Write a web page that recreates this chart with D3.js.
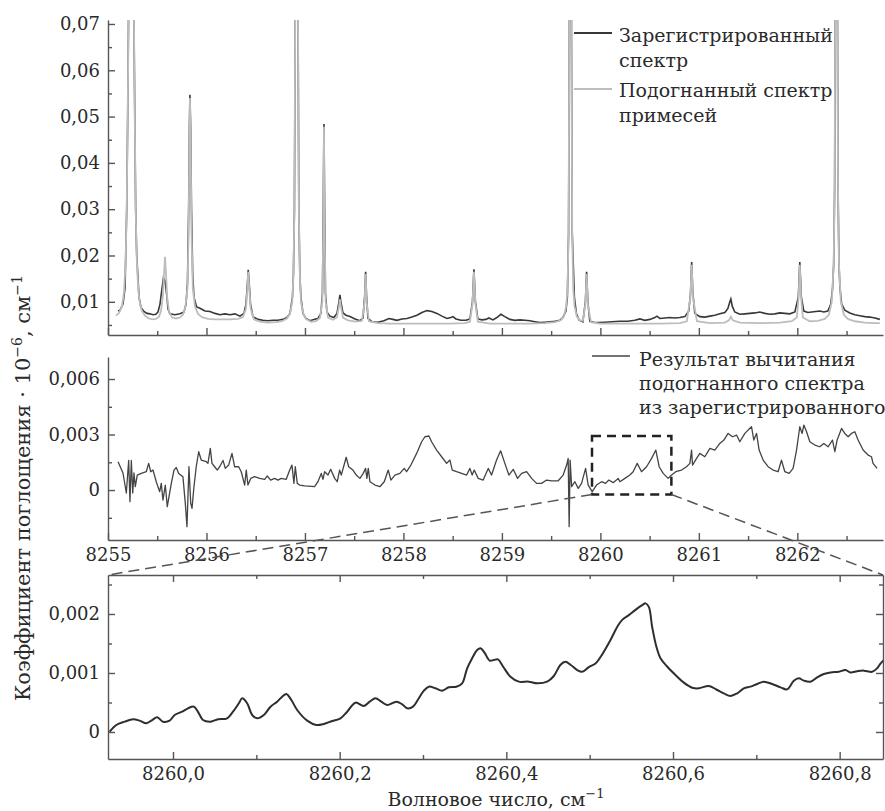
<!DOCTYPE html>
<html>
<head>
<meta charset="utf-8">
<script src="https://cdn.jsdelivr.net/npm/d3@7"></script>
<style>
body { margin: 0; background: #fff; }
svg { display: block; font-family: "DejaVu Serif", serif; }
.axis path, .axis line { stroke: #555; stroke-width: 1.4; }
.axis text { font-size: 18px; fill: #2a2a2a; font-family: "DejaVu Serif", serif; }
.legend text { font-size: 19px; fill: #2a2a2a; }
</style>
</head>
<body>
<div id="chart"></div>
<script>
// recorded spectrum (dark), wavenumber / absorption
const recorded = [[8255.102,0.0080],[8255.122,0.0082],[8255.152,0.0095],[8255.173,0.013],[8255.190,0.03],[8255.200,0.05],[8255.208,0.07],[8255.234,0.15],[8255.264,0.07],[8255.272,0.05],[8255.281,0.03],[8255.291,0.0205],[8255.302,0.016],[8255.315,0.011],[8255.335,0.0088],[8255.365,0.0079],[8255.396,0.0075],[8255.426,0.0074],[8255.457,0.0072],[8255.487,0.0073],[8255.508,0.0078],[8255.528,0.0095],[8255.543,0.012],[8255.563,0.0152],[8255.579,0.0145],[8255.599,0.011],[8255.609,0.0085],[8255.629,0.0074],[8255.680,0.0072],[8255.731,0.0074],[8255.772,0.0078],[8255.792,0.0095],[8255.807,0.014],[8255.819,0.03],[8255.827,0.048],[8255.832,0.0547],[8255.839,0.048],[8255.848,0.03],[8255.860,0.016],[8255.873,0.011],[8255.900,0.0089],[8255.934,0.0086],[8255.985,0.0080],[8256.036,0.0079],[8256.086,0.0075],[8256.137,0.0072],[8256.188,0.0074],[8256.239,0.0072],[8256.289,0.0074],[8256.340,0.0069],[8256.381,0.0075],[8256.401,0.0095],[8256.416,0.014],[8256.424,0.0169],[8256.434,0.014],[8256.447,0.0095],[8256.472,0.0068],[8256.523,0.0062],[8256.574,0.0060],[8256.624,0.0059],[8256.675,0.0060],[8256.726,0.0060],[8256.777,0.0062],[8256.817,0.0066],[8256.848,0.0075],[8256.873,0.011],[8256.883,0.016],[8256.893,0.03],[8256.901,0.07],[8256.916,0.15],[8256.930,0.07],[8256.938,0.03],[8256.948,0.016],[8256.959,0.011],[8256.980,0.0075],[8257.010,0.0064],[8257.051,0.0059],[8257.091,0.0062],[8257.132,0.0064],[8257.162,0.0075],[8257.178,0.012],[8257.186,0.03],[8257.193,0.0484],[8257.200,0.03],[8257.208,0.012],[8257.223,0.0078],[8257.254,0.0069],[8257.294,0.0066],[8257.325,0.0075],[8257.345,0.0100],[8257.355,0.0115],[8257.365,0.0100],[8257.386,0.0076],[8257.416,0.0071],[8257.457,0.0068],[8257.508,0.0063],[8257.558,0.0059],[8257.589,0.0065],[8257.606,0.011],[8257.616,0.0165],[8257.626,0.011],[8257.640,0.0064],[8257.680,0.0057],[8257.741,0.0056],[8257.802,0.0059],[8257.853,0.0064],[8257.893,0.0062],[8257.934,0.0060],[8257.985,0.0063],[8258.036,0.0064],[8258.086,0.0067],[8258.137,0.0071],[8258.188,0.0077],[8258.239,0.0081],[8258.289,0.0079],[8258.340,0.0075],[8258.391,0.0069],[8258.442,0.0064],[8258.482,0.0066],[8258.503,0.0068],[8258.533,0.0063],[8258.584,0.0060],[8258.635,0.0060],[8258.675,0.0063],[8258.701,0.010],[8258.716,0.0170],[8258.731,0.010],[8258.756,0.0063],[8258.797,0.0061],[8258.838,0.0062],[8258.868,0.0065],[8258.909,0.0061],[8258.949,0.0066],[8258.990,0.0073],[8259.030,0.0068],[8259.081,0.0062],[8259.132,0.0060],[8259.183,0.0061],[8259.234,0.0060],[8259.284,0.0059],[8259.335,0.0057],[8259.386,0.0055],[8259.437,0.0056],[8259.487,0.0057],[8259.538,0.0058],[8259.589,0.0060],[8259.619,0.0066],[8259.650,0.0080],[8259.665,0.011],[8259.677,0.025],[8259.685,0.07],[8259.695,0.15],[8259.706,0.07],[8259.714,0.025],[8259.736,0.011],[8259.756,0.0075],[8259.782,0.0061],[8259.822,0.0057],[8259.848,0.010],[8259.860,0.0165],[8259.873,0.010],[8259.893,0.0058],[8259.934,0.0056],[8259.975,0.0055],[8260.046,0.0056],[8260.117,0.0057],[8260.198,0.0058],[8260.279,0.0058],[8260.350,0.0060],[8260.401,0.0063],[8260.452,0.0060],[8260.503,0.0062],[8260.553,0.0066],[8260.574,0.0069],[8260.604,0.0064],[8260.655,0.0065],[8260.706,0.0066],[8260.756,0.0065],[8260.807,0.0066],[8260.858,0.0068],[8260.898,0.0080],[8260.916,0.0120],[8260.927,0.0186],[8260.939,0.0120],[8260.959,0.0075],[8261.010,0.0068],[8261.061,0.0067],[8261.112,0.0069],[8261.162,0.0071],[8261.213,0.0074],[8261.264,0.0077],[8261.294,0.0085],[8261.315,0.0100],[8261.325,0.0106],[8261.340,0.0090],[8261.365,0.0078],[8261.416,0.0073],[8261.467,0.0074],[8261.518,0.0075],[8261.569,0.0076],[8261.619,0.0078],[8261.670,0.0075],[8261.721,0.0073],[8261.772,0.0074],[8261.822,0.0076],[8261.873,0.0075],[8261.924,0.0074],[8261.975,0.0078],[8262.010,0.0110],[8262.025,0.0186],[8262.041,0.0110],[8262.066,0.0080],[8262.107,0.0077],[8262.147,0.0078],[8262.188,0.0079],[8262.228,0.0080],[8262.269,0.0078],[8262.310,0.0080],[8262.340,0.0095],[8262.358,0.013],[8262.369,0.018],[8262.379,0.035],[8262.384,0.07],[8262.396,0.15],[8262.408,0.07],[8262.413,0.035],[8262.423,0.018],[8262.433,0.013],[8262.450,0.0095],[8262.482,0.0082],[8262.533,0.0076],[8262.584,0.0072],[8262.635,0.0070],[8262.685,0.0068],[8262.736,0.0067],[8262.787,0.0065],[8262.838,0.0062]];

// fitted impurity spectrum (light)
const fitted = [[8255.081,0.0070],[8255.112,0.0076],[8255.142,0.0090],[8255.162,0.012],[8255.178,0.018],[8255.190,0.03],[8255.200,0.05],[8255.208,0.07],[8255.234,0.15],[8255.264,0.07],[8255.272,0.05],[8255.281,0.03],[8255.291,0.020],[8255.299,0.016],[8255.310,0.012],[8255.325,0.0095],[8255.345,0.0080],[8255.376,0.0070],[8255.406,0.0065],[8255.447,0.0062],[8255.487,0.0063],[8255.518,0.0068],[8255.538,0.0080],[8255.556,0.011],[8255.569,0.016],[8255.579,0.0197],[8255.589,0.016],[8255.601,0.011],[8255.619,0.0080],[8255.650,0.0066],[8255.690,0.0064],[8255.731,0.0066],[8255.761,0.0072],[8255.787,0.0090],[8255.807,0.013],[8255.819,0.025],[8255.827,0.045],[8255.832,0.0540],[8255.839,0.045],[8255.848,0.025],[8255.861,0.013],[8255.883,0.0090],[8255.914,0.0074],[8255.954,0.0067],[8256.015,0.0063],[8256.086,0.0062],[8256.157,0.0062],[8256.239,0.0062],[8256.320,0.0063],[8256.371,0.0067],[8256.401,0.0085],[8256.416,0.013],[8256.424,0.0165],[8256.434,0.013],[8256.449,0.0085],[8256.482,0.0062],[8256.543,0.0057],[8256.624,0.0055],[8256.706,0.0056],[8256.766,0.0058],[8256.817,0.0064],[8256.848,0.0074],[8256.871,0.010],[8256.883,0.016],[8256.893,0.03],[8256.901,0.07],[8256.916,0.15],[8256.930,0.07],[8256.938,0.03],[8256.948,0.016],[8256.960,0.010],[8256.984,0.0074],[8257.010,0.0063],[8257.061,0.0057],[8257.112,0.0058],[8257.152,0.0065],[8257.176,0.010],[8257.186,0.025],[8257.193,0.0478],[8257.200,0.025],[8257.210,0.010],[8257.234,0.0066],[8257.284,0.0061],[8257.325,0.0066],[8257.345,0.0090],[8257.355,0.0105],[8257.365,0.0090],[8257.386,0.0066],[8257.437,0.0060],[8257.518,0.0057],[8257.579,0.0059],[8257.606,0.010],[8257.616,0.0160],[8257.626,0.010],[8257.650,0.0058],[8257.741,0.0054],[8257.863,0.0053],[8258.015,0.0053],[8258.168,0.0053],[8258.320,0.0053],[8258.472,0.0053],[8258.624,0.0054],[8258.675,0.0057],[8258.701,0.0095],[8258.716,0.0165],[8258.731,0.0095],[8258.756,0.0057],[8258.878,0.0053],[8259.081,0.0053],[8259.284,0.0053],[8259.437,0.0054],[8259.538,0.0056],[8259.599,0.0060],[8259.629,0.0068],[8259.653,0.0090],[8259.667,0.013],[8259.677,0.025],[8259.685,0.07],[8259.695,0.15],[8259.706,0.07],[8259.714,0.025],[8259.724,0.013],[8259.738,0.0090],[8259.761,0.0068],[8259.792,0.0060],[8259.822,0.0059],[8259.848,0.0095],[8259.860,0.0160],[8259.873,0.0095],[8259.904,0.0056],[8259.995,0.0053],[8260.198,0.0053],[8260.401,0.0053],[8260.604,0.0053],[8260.807,0.0054],[8260.878,0.0058],[8260.914,0.0110],[8260.927,0.0180],[8260.940,0.0110],[8260.980,0.0058],[8261.112,0.0054],[8261.264,0.0055],[8261.305,0.0060],[8261.325,0.0068],[8261.345,0.0060],[8261.416,0.0055],[8261.619,0.0054],[8261.822,0.0055],[8261.944,0.0058],[8261.995,0.0066],[8262.013,0.011],[8262.025,0.0180],[8262.038,0.011],[8262.056,0.0066],[8262.127,0.0058],[8262.208,0.0059],[8262.279,0.0063],[8262.320,0.0072],[8262.350,0.0100],[8262.369,0.018],[8262.379,0.035],[8262.384,0.07],[8262.396,0.15],[8262.408,0.07],[8262.413,0.035],[8262.423,0.018],[8262.442,0.0100],[8262.472,0.0072],[8262.513,0.0063],[8262.584,0.0058],[8262.685,0.0055],[8262.787,0.0054],[8262.838,0.0054]];

// recorded minus fitted
const residual = [[8255.102,0.00153],[8255.152,0.00092],[8255.186,-0.00016],[8255.210,0.0016],[8255.223,-0.00063],[8255.237,0.0016],[8255.251,-0.00016],[8255.264,0.00092],[8255.277,0.00018],[8255.297,0.00081],[8255.338,0.0009],[8255.389,0.00099],[8255.413,0.00144],[8255.434,0.00099],[8255.457,0.00108],[8255.490,0.00045],[8255.525,-0.00009],[8255.541,0.00036],[8255.558,-0.00054],[8255.582,0.00027],[8255.602,-0.0009],[8255.643,0.00036],[8255.670,0.00108],[8255.693,0.00122],[8255.718,0.0009],[8255.761,0.00072],[8255.785,-0.00072],[8255.802,-0.00198],[8255.822,0.00126],[8255.840,-0.00072],[8255.853,-0.00099],[8255.873,0.00018],[8255.896,0.00126],[8255.921,0.00207],[8255.947,0.00162],[8255.998,0.00153],[8256.015,0.00144],[8256.039,0.00225],[8256.056,0.00144],[8256.083,0.00126],[8256.110,0.00108],[8256.134,0.00126],[8256.168,0.0016],[8256.191,0.00117],[8256.225,0.00135],[8256.259,0.00198],[8256.286,0.00126],[8256.327,0.00126],[8256.353,0.00099],[8256.388,0.00027],[8256.404,0.00108],[8256.421,0.00027],[8256.449,0.00063],[8256.489,0.00072],[8256.540,0.00063],[8256.591,0.00058],[8256.617,0.00076],[8256.652,0.00054],[8256.692,0.00063],[8256.726,0.00054],[8256.759,0.00063],[8256.810,0.00058],[8256.845,0.00108],[8256.868,0.00135],[8256.888,0.00036],[8256.902,0.00126],[8256.922,0.00036],[8256.946,0.00027],[8256.997,0.00022],[8257.098,0.00018],[8257.132,0.00045],[8257.166,0.0009],[8257.183,0.00058],[8257.200,0.00099],[8257.234,0.00081],[8257.261,0.00112],[8257.302,0.00063],[8257.328,0.00045],[8257.352,0.00108],[8257.369,0.00081],[8257.419,0.00177],[8257.444,0.00126],[8257.487,0.00108],[8257.521,0.00081],[8257.558,0.00063],[8257.592,0.0009],[8257.616,0.00117],[8257.629,0.00063],[8257.643,0.00117],[8257.660,0.00045],[8257.711,0.00027],[8257.761,0.00018],[8257.805,0.00045],[8257.846,0.00108],[8257.873,0.00054],[8257.914,0.00081],[8257.964,0.0009],[8258.008,0.00117],[8258.032,0.00099],[8258.076,0.00135],[8258.134,0.00198],[8258.185,0.00261],[8258.218,0.00288],[8258.259,0.00292],[8258.286,0.00261],[8258.337,0.00216],[8258.388,0.0018],[8258.439,0.00144],[8258.472,0.00162],[8258.496,0.00108],[8258.540,0.00099],[8258.591,0.0009],[8258.642,0.00081],[8258.675,0.00117],[8258.698,0.00081],[8258.719,0.00108],[8258.759,0.00063],[8258.810,0.00054],[8258.861,0.00117],[8258.895,0.00081],[8258.946,0.00162],[8258.987,0.00212],[8259.030,0.00144],[8259.071,0.00081],[8259.115,0.00112],[8259.159,0.00063],[8259.200,0.0009],[8259.251,0.00099],[8259.302,0.00063],[8259.352,0.00036],[8259.403,0.00036],[8259.454,0.00054],[8259.505,0.0005],[8259.572,0.0005],[8259.622,0.00081],[8259.657,0.00135],[8259.673,0.00171],[8259.683,-0.00198],[8259.693,0.00162],[8259.708,0.00018],[8259.741,0.00045],[8259.775,0.00009],[8259.809,0.00036],[8259.850,0.00117],[8259.876,0.00027],[8259.917,-0.00009],[8259.961,0.00027],[8260.012,0.00045],[8260.053,0.00036],[8260.086,0.00054],[8260.130,0.0004],[8260.181,0.00063],[8260.198,0.00045],[8260.249,0.00063],[8260.299,0.00081],[8260.333,0.00099],[8260.374,0.00144],[8260.418,0.00099],[8260.469,0.00126],[8260.520,0.00171],[8260.563,0.00216],[8260.597,0.00126],[8260.638,0.0009],[8260.688,0.00063],[8260.723,0.00081],[8260.766,0.00099],[8260.824,0.00108],[8260.875,0.00126],[8260.909,0.00144],[8260.926,0.00216],[8260.936,0.00135],[8260.977,0.00171],[8261.010,0.00198],[8261.061,0.0018],[8261.112,0.00225],[8261.162,0.00216],[8261.213,0.00252],[8261.254,0.0027],[8261.297,0.00306],[8261.342,0.00288],[8261.383,0.00297],[8261.416,0.00261],[8261.467,0.00306],[8261.500,0.00324],[8261.535,0.00342],[8261.558,0.0027],[8261.586,0.00306],[8261.612,0.00216],[8261.653,0.00162],[8261.703,0.00126],[8261.754,0.00108],[8261.805,0.00099],[8261.839,0.00162],[8261.873,0.00099],[8261.917,0.0009],[8261.957,0.00117],[8261.992,0.00216],[8262.025,0.00342],[8262.049,0.00306],[8262.066,0.00351],[8262.094,0.00315],[8262.127,0.00261],[8262.178,0.00243],[8262.228,0.00234],[8262.269,0.00252],[8262.313,0.00234],[8262.357,0.0027],[8262.381,0.00207],[8262.404,0.0027],[8262.449,0.00333],[8262.482,0.00306],[8262.516,0.00288],[8262.550,0.00306],[8262.584,0.00315],[8262.617,0.0027],[8262.668,0.00216],[8262.719,0.00189],[8262.753,0.0018],[8262.769,0.00144],[8262.810,0.00117]];

// residual, enlarged fragment
const residualZoom = [[8259.924,0.000005],[8259.932,0.000119],[8259.942,0.000175],[8259.952,0.000215],[8259.960,0.000192],[8259.968,0.000147],[8259.975,0.000203],[8259.981,0.000249],[8259.988,0.000175],[8259.996,0.000192],[8260.002,0.000288],[8260.011,0.000344],[8260.018,0.000401],[8260.025,0.000429],[8260.031,0.000316],[8260.036,0.000203],[8260.045,0.000175],[8260.054,0.000215],[8260.065,0.000232],[8260.072,0.000344],[8260.079,0.000486],[8260.083,0.000571],[8260.089,0.000486],[8260.095,0.000288],[8260.101,0.000232],[8260.109,0.000288],[8260.117,0.000429],[8260.125,0.000514],[8260.131,0.000598],[8260.136,0.000644],[8260.142,0.000542],[8260.149,0.000373],[8260.161,0.000192],[8260.172,0.000119],[8260.181,0.000136],[8260.191,0.000186],[8260.201,0.000232],[8260.209,0.000344],[8260.219,0.000497],[8260.229,0.000441],[8260.236,0.000514],[8260.243,0.000571],[8260.250,0.000514],[8260.257,0.000458],[8260.268,0.000514],[8260.275,0.000469],[8260.281,0.000401],[8260.288,0.000429],[8260.295,0.000571],[8260.301,0.000700],[8260.307,0.000768],[8260.315,0.000740],[8260.323,0.000700],[8260.331,0.000757],[8260.340,0.000768],[8260.347,0.000825],[8260.353,0.00108],[8260.359,0.00125],[8260.365,0.00139],[8260.369,0.00142],[8260.374,0.00134],[8260.380,0.00121],[8260.385,0.00122],[8260.390,0.00123],[8260.396,0.00111],[8260.405,0.000937],[8260.415,0.000853],[8260.427,0.000853],[8260.437,0.000825],[8260.449,0.000853],[8260.457,0.000949],[8260.465,0.00114],[8260.471,0.00119],[8260.477,0.00114],[8260.485,0.00105],[8260.491,0.00102],[8260.499,0.00110],[8260.507,0.00116],[8260.513,0.00127],[8260.525,0.00156],[8260.533,0.00178],[8260.539,0.0019],[8260.547,0.00198],[8260.555,0.00207],[8260.563,0.00215],[8260.567,0.00218],[8260.571,0.00212],[8260.575,0.00178],[8260.580,0.00145],[8260.585,0.00125],[8260.593,0.00111],[8260.603,0.000966],[8260.613,0.000836],[8260.623,0.000751],[8260.631,0.000740],[8260.643,0.000780],[8260.653,0.000712],[8260.661,0.000655],[8260.669,0.000610],[8260.677,0.000655],[8260.685,0.000740],[8260.693,0.000768],[8260.701,0.000814],[8260.709,0.000853],[8260.719,0.000814],[8260.729,0.000757],[8260.737,0.000723],[8260.745,0.000870],[8260.751,0.000910],[8260.757,0.000870],[8260.765,0.000853],[8260.773,0.000927],[8260.781,0.000983],[8260.789,0.00101],[8260.799,0.00102],[8260.807,0.00105],[8260.813,0.00101],[8260.821,0.00103],[8260.829,0.00104],[8260.839,0.00102],[8260.845,0.00108],[8260.849,0.00116],[8260.853,0.00122]];

// region that is enlarged in the lower panel
const zoomBox = { x0: 8259.915, x1: 8260.721, y0: -0.00024, y1: 0.00292 };

const waveMajor = [8255, 8256, 8257, 8258, 8259, 8260, 8261, 8262];
const waveMinor = [8255.5, 8256.5, 8257.5, 8258.5, 8259.5, 8260.5, 8261.5, 8262.5];
const topMajor = [0.01, 0.02, 0.03, 0.04, 0.05, 0.06, 0.07];
const topMinor = [0.005, 0.015, 0.025, 0.035, 0.045, 0.055, 0.065];
const midMajor = [0, 0.003, 0.006];
const midMinor = [-0.0015, 0.0015, 0.0045];
const zoomXMajor = [8260.0, 8260.2, 8260.4, 8260.6, 8260.8];
const zoomXMinor = [8260.1, 8260.3, 8260.5, 8260.7];
const zoomYMajor = [0, 0.001, 0.002];
const zoomYMinor = [0.0005, 0.0015, 0.0025];

const width = 885, height = 811;
const left = 108, right = 883;

const ru = d3.formatLocale({ decimal: ",", thousands: "\u00a0", grouping: [3], currency: ["", ""] });
const fmt = spec => d => d === 0 ? "0" : ru.format(spec)(d);

const svg = d3.select("#chart").append("svg")
    .attr("width", width)
    .attr("height", height);

svg.append("rect").attr("width", width).attr("height", height).attr("fill", "#fff");

const x = d3.scaleLinear().domain([8255, 8262.87]).range([left, right]);
const yTop = d3.scaleLinear().domain([0.00283, 0.07086]).range([335, 20]);
const yMid = d3.scaleLinear().domain([-0.0027, 0.00719]).range([540, 357]);
const xZoom = d3.scaleLinear().domain([8259.922, 8260.852]).range([left, right]);
const yZoom = d3.scaleLinear().domain([-0.000458, 0.002661]).range([759, 575]);

const defs = svg.append("defs");
function clip(id, xs, ys) {
    defs.append("clipPath").attr("id", id).append("rect")
        .attr("x", xs.range()[0]).attr("y", ys.range()[1])
        .attr("width", xs.range()[1] - xs.range()[0])
        .attr("height", ys.range()[0] - ys.range()[1]);
}
clip("clipTop", x, yTop);
clip("clipMid", x, yMid);
clip("clipZoom", xZoom, yZoom);

function drawAxis(axisFn, scale, major, minor, format, transform) {
    const g = svg.append("g").attr("class", "axis").attr("transform", transform);
    g.call(axisFn(scale).tickValues(major).tickSizeInner(-7).tickSizeOuter(0)
        .tickPadding(8).tickFormat(format || (() => "")));
    g.append("g").call(axisFn(scale).tickValues(minor).tickSizeInner(-4).tickSizeOuter(0).tickFormat(""))
        .select(".domain").remove();
    return g;
}

// top panel
drawAxis(d3.axisLeft, yTop, topMajor, topMinor, fmt(".2f"), `translate(${left},0)`);
drawAxis(d3.axisBottom, x, waveMajor, waveMinor, null, `translate(0,${yTop.range()[0]})`);

const lineTop = d3.line().x(d => x(d[0])).y(d => yTop(d[1]));
const topG = svg.append("g").attr("clip-path", "url(#clipTop)");
topG.append("path").datum(recorded)
    .attr("fill", "none").attr("stroke", "#383838").attr("stroke-width", 1.6)
    .attr("d", lineTop);
topG.append("path").datum(fitted)
    .attr("fill", "none").attr("stroke", "#bdbdbd").attr("stroke-width", 1.8)
    .attr("d", lineTop);

// middle panel
drawAxis(d3.axisLeft, yMid, midMajor, midMinor, fmt(".3f"), `translate(${left},0)`);
drawAxis(d3.axisBottom, x, waveMajor, waveMinor, d3.format("d"), `translate(0,${yMid.range()[0]})`);

svg.append("g").attr("clip-path", "url(#clipMid)")
    .append("path").datum(residual)
    .attr("fill", "none").attr("stroke", "#444").attr("stroke-width", 1.3)
    .attr("stroke-linejoin", "round")
    .attr("d", d3.line().x(d => x(d[0])).y(d => yMid(d[1])));

// bottom panel (framed)
drawAxis(d3.axisLeft, yZoom, zoomYMajor, zoomYMinor, fmt(".3f"), `translate(${left},0)`);
drawAxis(d3.axisRight, yZoom, zoomYMajor, zoomYMinor, null, `translate(${right},0)`);
drawAxis(d3.axisBottom, xZoom, zoomXMajor, zoomXMinor, fmt(".1f"), `translate(0,${yZoom.range()[0]})`);
drawAxis(d3.axisTop, xZoom, zoomXMajor, zoomXMinor, null, `translate(0,${yZoom.range()[1]})`);

svg.append("g").attr("clip-path", "url(#clipZoom)")
    .append("path").datum(residualZoom)
    .attr("fill", "none").attr("stroke", "#2e2e2e").attr("stroke-width", 2)
    .attr("d", d3.line().curve(d3.curveCatmullRom.alpha(0.5)).x(d => xZoom(d[0])).y(d => yZoom(d[1])));

// zoom box and connectors
svg.append("rect")
    .attr("x", x(zoomBox.x0)).attr("y", yMid(zoomBox.y1))
    .attr("width", x(zoomBox.x1) - x(zoomBox.x0))
    .attr("height", yMid(zoomBox.y0) - yMid(zoomBox.y1))
    .attr("fill", "none").attr("stroke", "#222").attr("stroke-width", 2.5)
    .attr("stroke-dasharray", "9,6");

const connectors = [
    [[x(zoomBox.x0), yMid(zoomBox.y0)], [xZoom.range()[0], yZoom.range()[1]]],
    [[x(zoomBox.x1), yMid(zoomBox.y0)], [xZoom.range()[1], yZoom.range()[1]]]
];
svg.selectAll(".connector").data(connectors).join("line")
    .attr("class", "connector")
    .attr("x1", d => d[0][0]).attr("y1", d => d[0][1])
    .attr("x2", d => d[1][0]).attr("y2", d => d[1][1])
    .attr("stroke", "#555").attr("stroke-width", 1.5)
    .attr("stroke-dasharray", "11,6");

// legends
const legTop = svg.append("g").attr("class", "legend");
legTop.append("line").attr("x1", 574).attr("x2", 612).attr("y1", 33).attr("y2", 33)
    .attr("stroke", "#383838").attr("stroke-width", 1.8);
legTop.append("line").attr("x1", 574).attr("x2", 612).attr("y1", 89).attr("y2", 89)
    .attr("stroke", "#bdbdbd").attr("stroke-width", 1.8);
[["Зарегистрированный", 42], ["спектр", 67], ["Подогнанный спектр", 97], ["примесей", 122]]
    .forEach(([t, yy]) => legTop.append("text").attr("x", 619).attr("y", yy).text(t));

const legMid = svg.append("g").attr("class", "legend");
legMid.append("line").attr("x1", 592).attr("x2", 630).attr("y1", 356).attr("y2", 356)
    .attr("stroke", "#444").attr("stroke-width", 1.5);
[["Результат вычитания", 366], ["подогнанного спектра", 390], ["из зарегистрированного", 414]]
    .forEach(([t, yy]) => legMid.append("text").attr("x", 639).attr("y", yy).text(t));

// axis titles
const yTitle = svg.append("text")
    .attr("transform", "translate(30,488) rotate(-90)")
    .attr("text-anchor", "middle")
    .attr("font-size", 21).attr("fill", "#2a2a2a");
yTitle.append("tspan").text("Коэффициент поглощения · 10");
yTitle.append("tspan").attr("dy", -8).attr("font-size", 14).text("−6");
yTitle.append("tspan").attr("dy", 8).text(", см");
yTitle.append("tspan").attr("dy", -8).attr("font-size", 14).text("−1");

const xTitle = svg.append("text")
    .attr("x", 496).attr("y", 806)
    .attr("text-anchor", "middle")
    .attr("font-size", 19).attr("fill", "#2a2a2a");
xTitle.append("tspan").text("Волновое число, см");
xTitle.append("tspan").attr("dy", -8).attr("font-size", 13).text("−1");
</script>
</body>
</html>
